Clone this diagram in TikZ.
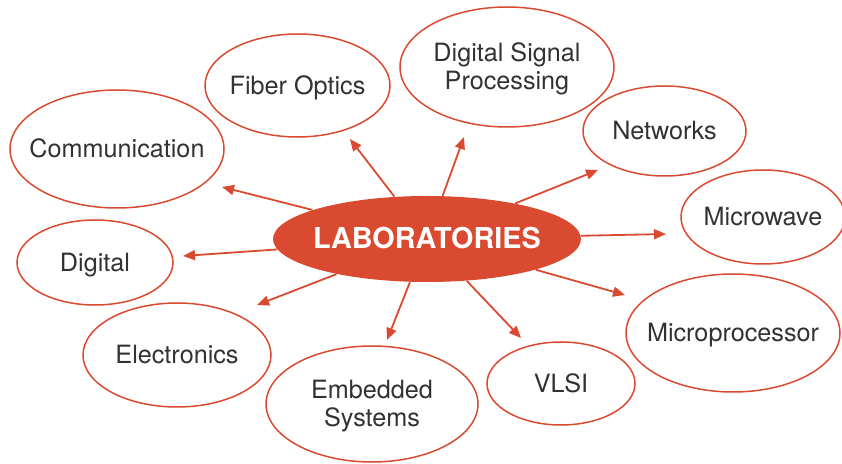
\documentclass[tikz,border=0pt]{standalone}
\usepackage{fontspec}
\setmainfont{TeX Gyre Heros}
\usepackage{xcolor}
\usetikzlibrary{shapes.geometric,arrows.meta}

\definecolor{labred}{RGB}{218,74,48}
\definecolor{labtext}{RGB}{50,50,50}
% zero-width text, so the ellipse keeps its given size
\newcommand{\tx}[1]{\makebox[0pt]{\raisebox{-1.6pt}[\height][\depth]{%
  \begin{tabular}{@{}c@{}}#1\end{tabular}}}}

\begin{document}
\begin{tikzpicture}[x=0.5pt,y=-0.5pt,
  topic/.style 2 args={ellipse,draw=labred,line width=0.75pt,inner sep=0pt,
    minimum width=#1,minimum height=#2,text=labtext,
    font=\fontsize{12.6}{14}\selectfont},
  arr/.style={draw=labred,line width=0.9pt,-{Triangle[length=6pt,width=5pt]}}]
\useasboundingbox (0,0) rectangle (842,464);

% centre
\node[ellipse,fill=labred,inner sep=0pt,minimum width=154pt,minimum height=43pt,text=white,
  font=\fontsize{14.4}{16}\selectfont\bfseries] (lab) at (427,239) {\tx{LABORATORIES}};

% topics
\node[topic={107pt}{59pt}]   (comm)  at (117,149)   {\tx{Communication}};
\node[topic={92.5pt}{51.5pt}] (fiber) at (297.5,85.5) {\tx{Fiber Optics}};
\node[topic={107pt}{60pt}]   (dsp)   at (507,67)    {\tx{Digital Signal\\Processing}};
\node[topic={81.5pt}{45pt}]  (net)   at (664.5,131) {\tx{Networks}};
\node[topic={82pt}{47pt}]    (mw)    at (763,217)   {\tx{Microwave}};
\node[topic={107pt}{59pt}]   (mp)    at (733,333)   {\tx{Microprocessor}};
\node[topic={74pt}{41.5pt}]  (vlsi)  at (561,383.5) {\tx{VLSI}};
\node[topic={106pt}{58pt}]   (emb)   at (372,404)   {\tx{Embedded\\Systems}};
\node[topic={94pt}{52pt}]    (elec)  at (177,355)   {\tx{Electronics}};
\node[topic={78pt}{42.5pt}]  (dig)   at (95,262.5)  {\tx{Digital}};

% arrow tips
\coordinate (t-comm)  at (222,187);
\coordinate (t-fiber) at (350,139);
\coordinate (t-dsp)   at (464,137);
\coordinate (t-net)   at (598,170);
\coordinate (t-mw)    at (666,234);
\coordinate (t-mp)    at (625,295);
\coordinate (t-vlsi)  at (521,338);
\coordinate (t-emb)   at (387,340);
\coordinate (t-elec)  at (257,305);
\coordinate (t-dig)   at (183,256);

\foreach \x in {comm,fiber,dsp,net,mw,mp,vlsi,emb,elec,dig}
  \draw[arr] (lab) -- (t-\x);
\end{tikzpicture}
\end{document}
